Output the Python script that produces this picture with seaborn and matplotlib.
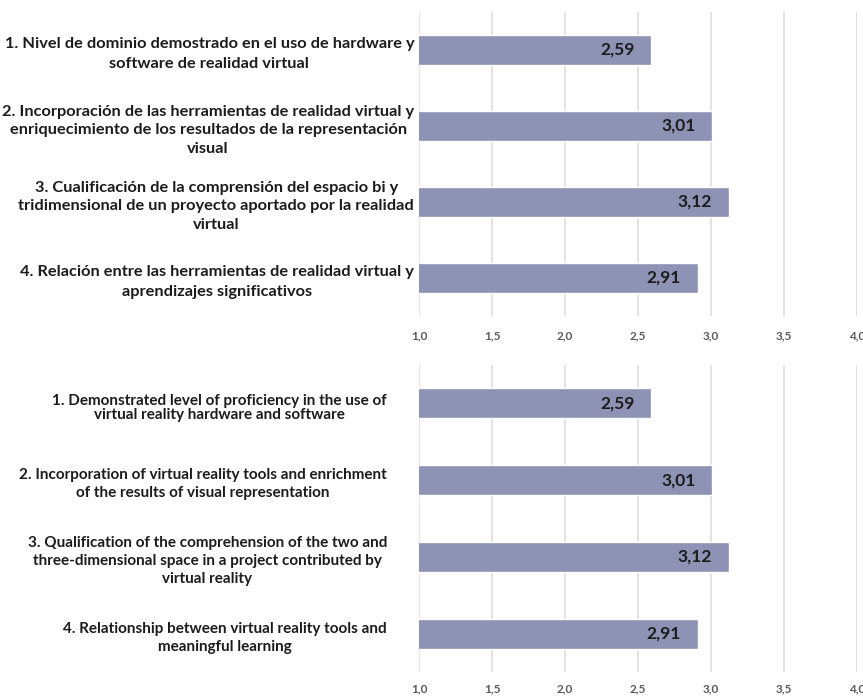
import matplotlib
matplotlib.use("Agg")
import matplotlib.pyplot as plt
import seaborn as sns
import pandas as pd

# Item statements (Spanish and English versions) and their mean scores
items_es = [
    "1. Nivel de dominio demostrado en el uso de hardware y\nsoftware de realidad virtual",
    "2. Incorporación de las herramientas de realidad virtual y\nenriquecimiento de los resultados de la representación\nvisual",
    "3. Cualificación de la comprensión del espacio bi y\ntridimensional de un proyecto aportado por la realidad\nvirtual",
    "4. Relación entre las herramientas de realidad virtual y\naprendizajes significativos",
]
items_en = [
    "1. Demonstrated level of proficiency in the use of\nvirtual reality hardware and software",
    "2. Incorporation of virtual reality tools and enrichment\nof the results of visual representation",
    "3. Qualification of the comprehension of the two and\nthree-dimensional space in a project contributed by\nvirtual reality",
    "4. Relationship between virtual reality tools and\nmeaningful learning",
]
scores = [2.59, 3.01, 3.12, 2.91]
x_ticks = [1.0, 1.5, 2.0, 2.5, 3.0, 3.5, 4.0]

BAR_COLOR = "#8e92b4"
GRID_COLOR = "#e2d8d8"
TEXT_COLOR = "#1c1c1c"
FONT = "Lato"

sns.set_theme(style="white")
plt.rcParams["font.family"] = [FONT, "DejaVu Sans"]

fig = plt.figure(figsize=(8.63, 6.96), dpi=100)
ax_top = fig.add_axes([419 / 863, 1 - 316 / 696, 438 / 863, 304 / 696])
ax_bot = fig.add_axes([419 / 863, 1 - 672 / 696, 438 / 863, 307 / 696])


def draw_panel(ax, labels, label_pad, label_size, spacings, tick_pad):
    df = pd.DataFrame({"item": labels, "score": scores})
    sns.barplot(data=df, x="score", y="item", orient="h", color=BAR_COLOR,
                saturation=1, width=0.39, ax=ax, zorder=3)
    ax.set_xlim(1.0, 4.0)
    ax.set_ylim(3.5, -0.5)
    ax.set_xticks(x_ticks)
    ax.set_xticklabels([f"{t:.1f}".replace(".", ",") for t in x_ticks],
                       fontsize=8.5, fontweight="bold", color="#5a5a5a")
    ax.tick_params(axis="x", length=0, pad=tick_pad)
    ax.tick_params(axis="y", length=0)
    ax.set_yticklabels([])
    ax.set_xlabel("")
    ax.set_ylabel("")
    for s in ax.spines.values():
        s.set_visible(False)
    for t in x_ticks:
        ax.axvline(t, color=GRID_COLOR, lw=1.1, zorder=1)
    # item statements, centred lines, right edge next to the axis
    for i, (lab, ls) in enumerate(zip(labels, spacings)):
        ax.annotate(lab, xy=(0, i), xycoords=("axes fraction", "data"),
                    xytext=(-label_pad, -3), textcoords="offset points",
                    ha="right", va="center", multialignment="center",
                    fontsize=label_size, fontweight="bold",
                    color=TEXT_COLOR, linespacing=ls, annotation_clip=False)
    # value labels inside the bar ends
    for i, v in enumerate(scores):
        ax.annotate(f"{v:.2f}".replace(".", ","), xy=(v, i),
                    xytext=(-12, 0), textcoords="offset points",
                    ha="right", va="center", fontsize=12.5,
                    fontweight="bold", color=TEXT_COLOR, zorder=4)


draw_panel(ax_top, items_es, label_pad=3.5, label_size=11.8,
           spacings=[1.5, 1.42, 1.42, 1.5], tick_pad=10)
draw_panel(ax_bot, items_en, label_pad=23, label_size=11.0,
           spacings=[1.0, 1.4, 1.4, 1.4], tick_pad=8)

fig.savefig("out.png", dpi=100)
